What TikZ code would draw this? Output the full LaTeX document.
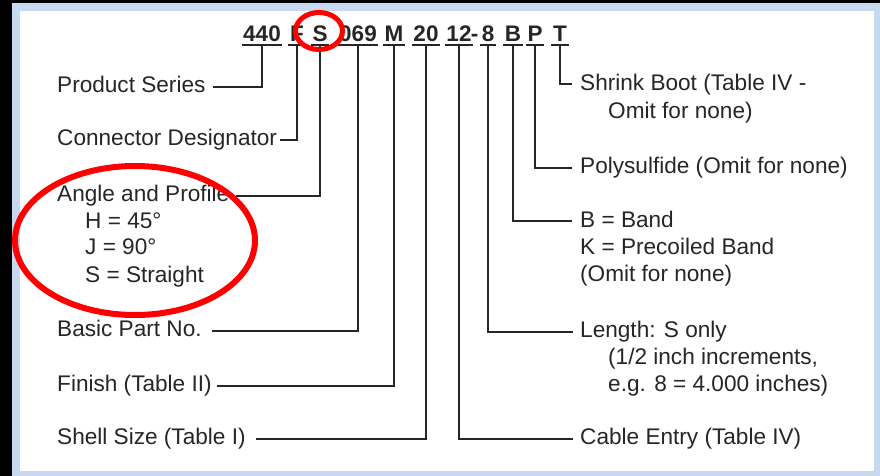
\documentclass[tikz,border=0pt]{standalone}
\usepackage{fontspec}
\setmainfont{Liberation Sans}
\definecolor{frameblue}{HTML}{C6D9F1}
\definecolor{ink}{HTML}{262626}
\definecolor{ringred}{HTML}{FF0000}
\begin{document}
\begin{tikzpicture}[x=1pt,y=-1pt,
  lbl/.style={anchor=base west, inner sep=0pt, font=\fontsize{22.6}{26}\selectfont, text=ink},
  code/.style={anchor=base, inner ysep=0pt, inner xsep=1.5pt, font=\fontsize{22.5}{26}\selectfont\bfseries, text=ink},
  conn/.style={draw=ink, line width=1.8pt},
  uline/.style={draw=ink, line width=1.8pt},
  redring/.style={draw=ringred, line width=5pt}]
\useasboundingbox (0,0) rectangle (880,476);
% frame
\fill[black] (0,0) rectangle (880,476);
\fill[frameblue] (12,3) rectangle (880,476);
\fill[white] (20,11) rectangle (874,471);
% code
\coordinate (ul) at (0,45);
\node[code] (c440) at (262,42) {440};
\node[code] (cF) at (297,42) {F};
\node[code] (cS) at (320,42) {S};
\node[code] (c069) at (358,42) {069};
\node[code] (cM) at (394,42) {M};
\node[code] (c20) at (426,42) {20};
\node[code] (c12) at (459,42) {12};
\node[code] (cdash) at (474.5,42) {-};
\node[code] (c8) at (488,42) {8};
\node[code] (cB) at (513,42) {B};
\node[code] (cP) at (535,42) {P};
\node[code] (cT) at (560,42) {T};
\foreach \n in {c440,cF,cS,c069,cM,c20,c12,c8,cB,cP,cT}
  \draw[uline] (\n.west |- ul) -- (\n.east |- ul);
% left labels
\node[lbl] (ps) at (57,93) {Product Series};
\node[lbl] (cd) at (57,146) {Connector Designator};
\node[lbl] (ap) at (57,201) {Angle and Profile};
\node[lbl] (aph) at (85,228) {H = 45°};
\node[lbl] (apj) at (85,254) {J = 90°};
\node[lbl] (aps) at (85,282) {S = Straight};
\node[lbl] (bp) at (57,336) {Basic Part No.};
\node[lbl] (fin) at (57,391) {Finish (Table II)};
\node[lbl] (ss) at (57,444) {Shell Size (Table I)};
\coordinate (psE) at (213,87);
\coordinate (cdE) at (280,140);
\coordinate (apE) at (236,196);
\coordinate (bpE) at (212,331);
\coordinate (finE) at (217,386);
\coordinate (ssE) at (256,439);
% right labels
\node[lbl] (sb) at (580,91) {Shrink Boot (Table IV -};
\node[lbl] (sb2) at (608,118) {Omit for none)};
\node[lbl] (pol) at (580,173) {Polysulfide (Omit for none)};
\node[lbl] (bb) at (580,227) {B = Band};
\node[lbl] (bk) at (580,254) {K = Precoiled Band};
\node[lbl] (bo) at (580,281) {(Omit for none)};
\node[lbl] (len) at (580,337) {Length: S only};
\node[lbl] (len2) at (608,364) {(1/2 inch increments,};
\node[lbl] (len3) at (608,391) {e.g. 8 = 4.000 inches)};
\node[lbl] (ce) at (580,444) {Cable Entry (Table IV)};
\coordinate (sbW) at (572,84);
\coordinate (polW) at (572,168);
\coordinate (bbW) at (572,221);
\coordinate (lenW) at (573,332);
\coordinate (ceW) at (573,439);
% connectors
\draw[conn] (c440.south |- ul) |- (psE);
\draw[conn] (cF.south |- ul) |- (cdE);
\draw[conn] (cS.south |- ul) |- (apE);
\draw[conn] (c069.south |- ul) |- (bpE);
\draw[conn] (cM.south |- ul) |- (finE);
\draw[conn] (c20.south |- ul) |- (ssE);
\draw[conn] (c12.south |- ul) |- (ceW);
\draw[conn] (c8.south |- ul) |- (lenW);
\draw[conn] (cB.south |- ul) |- (bbW);
\draw[conn] (cP.south |- ul) |- (polW);
\draw[conn] (cT.south |- ul) |- (sbW);
% red rings
\draw[redring] (319,31) ellipse [x radius=23.5, y radius=18.5];
\draw[redring, line width=6pt] (135,240.5) ellipse [x radius=120, y radius=74.5];
\end{tikzpicture}
\end{document}
